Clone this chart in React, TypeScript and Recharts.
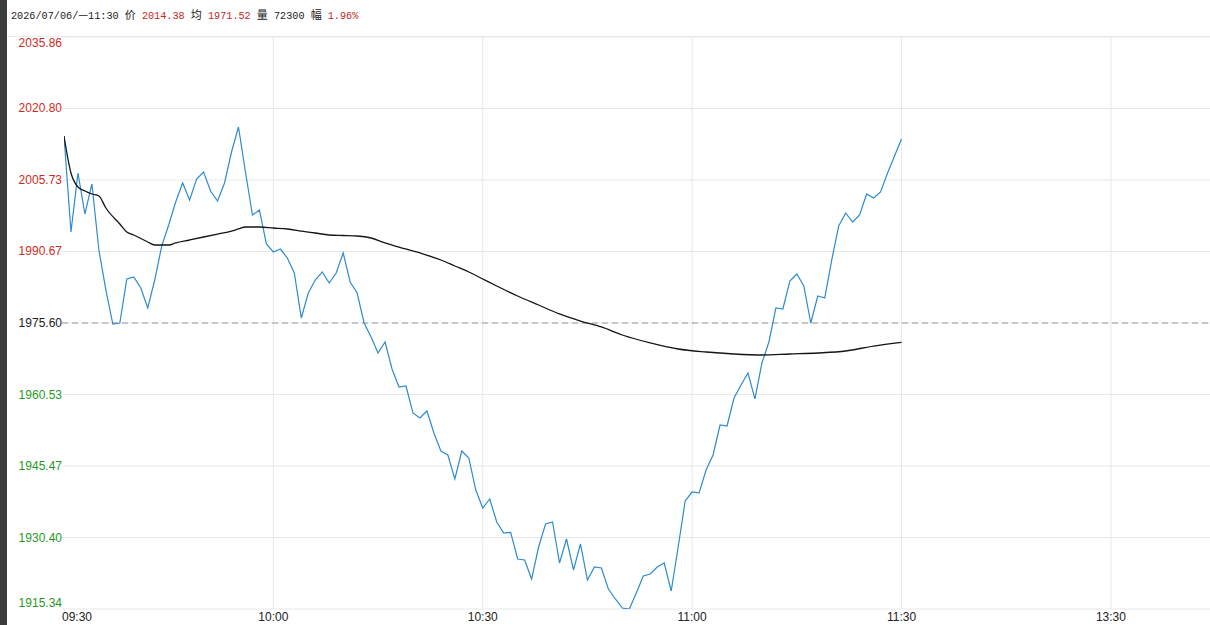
import { CartesianGrid, Line, LineChart, ReferenceLine, XAxis, YAxis } from "recharts";

// minute index from 09:30 (lunch break skipped, so 13:00 == 120)
const timeTicks = [0, 30, 60, 90, 120, 150];
const timeLabels = ["09:30", "10:00", "10:30", "11:00", "11:30", "13:30"];

const priceTicks = [1915.34, 1930.4, 1945.47, 1960.53, 1975.6, 1990.67, 2005.73, 2020.8, 2035.86];
const prevClose = 1975.6;

const price = [
  2015.0, 1994.77, 2007.2, 1998.57, 2004.89, 1990.98, 1982.55, 1975.39, 1975.6, 1984.87,
  1985.29, 1982.97, 1978.76, 1984.66, 1991.82, 1996.25, 2001.09, 2005.1, 2001.52, 2005.94,
  2007.42, 2003.41, 2001.31, 2005.1, 2011.63, 2016.9, 2007.42, 1998.36, 1999.41, 1992.25,
  1990.56, 1991.19, 1989.3, 1986.14, 1976.65, 1981.92, 1984.66, 1986.35, 1984.03, 1986.14,
  1990.35, 1984.24, 1981.92, 1975.6, 1972.65, 1969.28, 1971.6, 1965.91, 1962.12, 1962.33,
  1956.64, 1955.58, 1957.06, 1952.42, 1948.63, 1947.79, 1942.73, 1948.63, 1947.16, 1940.41,
  1936.62, 1938.52, 1933.67, 1931.35, 1931.5, 1925.88, 1925.66, 1921.66, 1928.4, 1933.25,
  1933.67, 1925.03, 1930.09, 1923.56, 1929.04, 1921.45, 1924.19, 1923.98, 1919.55, 1917.45,
  1915.55, 1915.34, 1918.71, 1922.29, 1922.71, 1924.19, 1925.03, 1919.13, 1928.4, 1938.1,
  1939.99, 1939.8, 1944.63, 1947.79, 1954.11, 1953.9, 1959.8, 1962.54, 1965.07, 1959.6,
  1967.17, 1971.6, 1978.76, 1978.55, 1984.45, 1985.92, 1983.4, 1975.6, 1981.29, 1980.87,
  1988.87, 1996.04, 1998.78, 1996.88, 1998.36, 2002.78, 2001.94, 2003.2, 2007.2, 2010.79,
  2014.38,
];

// average price line, read at these minutes
const avgMinutes = [
  0, 1, 2, 3, 4, 5, 6, 8, 9, 10, 12, 13, 15, 16, 18, 20, 22, 24, 25, 26, 28, 30, 32, 34, 36,
  38, 40, 42, 44, 46, 48, 51, 54, 56, 58, 60, 62, 65, 68, 71, 74, 77, 80, 84, 88, 92, 96, 100,
  104, 108, 112, 116, 120,
];
const avgValues = [
  2015.0, 2007.2, 2004.25, 2003.41, 2002.78, 2002.36, 1999.83, 1996.46, 1994.77, 1994.14,
  1992.67, 1992.03, 1992.03, 1992.46, 1993.09, 1993.72, 1994.35, 1994.98, 1995.41, 1995.83,
  1995.83, 1995.62, 1995.41, 1994.98, 1994.56, 1994.14, 1994.04, 1993.93, 1993.51, 1992.46,
  1991.61, 1990.35, 1988.87, 1987.61, 1986.35, 1984.87, 1983.4, 1981.29, 1979.39, 1977.5,
  1976.02, 1974.76, 1973.07, 1971.39, 1970.12, 1969.49, 1969.07, 1968.86, 1969.07, 1969.28,
  1969.7, 1970.75, 1971.52,
];

const data = price.map((p, i) => {
  const k = avgMinutes.indexOf(i);
  return { t: i, price: p, avg: k >= 0 ? avgValues[k] : null };
});

const RED = "#d22a22";
const GREEN = "#1f9a1f";
const GRID = "#e8e8e8";

function PriceTick(props: any) {
  const { x, y, payload, index } = props;
  const v = payload.value;
  const color = v > prevClose + 0.001 ? RED : v < prevClose - 0.001 ? GREEN : "#222";
  let dy = 4;
  if (index === priceTicks.length - 1) dy = 10;
  if (index === 0) dy = -2;
  return (
    <text x={x} y={y} dy={dy} textAnchor="end" fill={color} fontSize={12}>
      {v.toFixed(2)}
    </text>
  );
}

function TimeTick(props: any) {
  const { x, y, payload, index } = props;
  const first = index === 0;
  return (
    <text x={first ? x - 2 : x} y={y} dy={12} textAnchor={first ? "start" : "middle"} fill="#222" fontSize={12}>
      {timeLabels[timeTicks.indexOf(payload.value)]}
    </text>
  );
}

const mono = { fontFamily: "'Liberation Mono', monospace", fontSize: 10.2 };
const cjk = { fontFamily: "'Noto Sans CJK SC', sans-serif", fontSize: 11 };

export default function App() {
  return (
    <div style={{ position: "absolute", left: 0, top: 0, width: 1210, height: 625, background: "#fff", overflow: "hidden" }}>
      <div style={{ position: "absolute", left: 0, top: 0, width: 7, height: 625, background: "#3c3c3c" }} />
      <div style={{ position: "absolute", left: 11, top: 6, whiteSpace: "pre", color: "#222", lineHeight: "16px" }}>
        <span style={mono}>2026/07/06/</span>
        <span style={cjk}>—</span>
        <span style={mono}>11:30 </span>
        <span style={cjk}>价</span>
        <span style={{ ...mono, color: "#c0281e" }}> 2014.38 </span>
        <span style={cjk}>均</span>
        <span style={{ ...mono, color: "#c0281e" }}> 1971.52 </span>
        <span style={cjk}>量</span>
        <span style={mono}> 72300 </span>
        <span style={cjk}>幅</span>
        <span style={{ ...mono, color: "#c0281e" }}> 1.96%</span>
      </div>
      <div style={{ position: "absolute", left: 8, top: 36, width: 1202, height: 1, background: GRID }} />
      <LineChart
        width={1210}
        height={625}
        data={data}
        margin={{ top: 37, right: 0, bottom: 0, left: 0 }}
        style={{ fontFamily: "'Liberation Sans', Arial, sans-serif" }}
      >
        <CartesianGrid vertical={false} stroke={GRID} />
        <XAxis
          dataKey="t"
          type="number"
          domain={[0, 164.2]}
          ticks={timeTicks}
          padding={{ left: 2, right: 0 }}
          height={16}
          axisLine={false}
          tickLine={false}
          tickSize={0}
          tickMargin={0}
          tick={<TimeTick />}
          allowDataOverflow
        />
        <YAxis
          type="number"
          domain={[priceTicks[0], priceTicks[priceTicks.length - 1]]}
          ticks={priceTicks}
          width={62}
          axisLine={false}
          tickLine={false}
          tickSize={0}
          tickMargin={0}
          tick={<PriceTick />}
          interval={0}
          allowDataOverflow
        />
        {timeTicks.slice(1).map((t) => (
          <ReferenceLine key={t} x={t} stroke={GRID} ifOverflow="visible" />
        ))}
        <ReferenceLine y={prevClose} stroke="#9a9a9a" strokeDasharray="6 4" />
        <Line
          type="linear"
          dataKey="price"
          stroke="#2e8bcc"
          strokeWidth={1.2}
          dot={false}
          isAnimationActive={false}
        />
        <Line
          type="monotone"
          dataKey="avg"
          stroke="#151515"
          strokeWidth={1.3}
          dot={false}
          connectNulls
          isAnimationActive={false}
        />
      </LineChart>
    </div>
  );
}
